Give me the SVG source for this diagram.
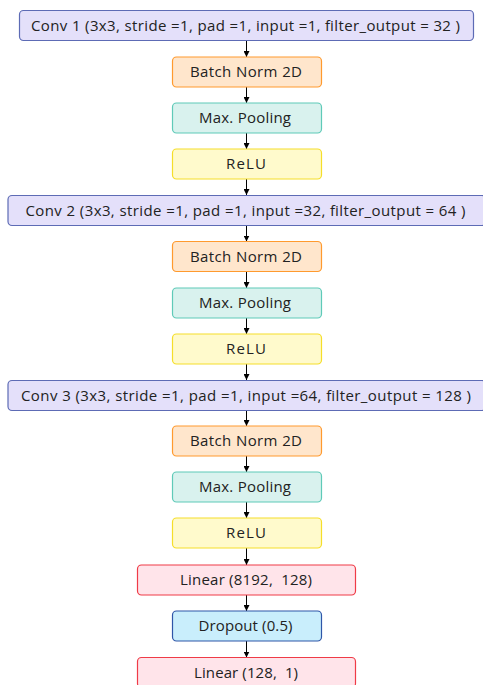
<svg xmlns="http://www.w3.org/2000/svg" width="483" height="685" viewBox="0 0 483 685">
<style>
rect{stroke-width:1.2}
.t{font-family:"Open Sans","Noto Sans",sans-serif;font-size:15px;fill:#222;text-anchor:middle;dominant-baseline:central}
.conv{fill:#e4e0fa;stroke:#5d6bb5}
.bn{fill:#ffe6cc;stroke:#ff9a2e}
.mp{fill:#d9f2ee;stroke:#5fcab8}
.relu{fill:#fffacc;stroke:#f5de2a}
.lin{fill:#ffe4ea;stroke:#ef3b47}
.drop{fill:#c9eefc;stroke:#2f56a8}
.c line{stroke:#000;stroke-width:1}
</style>
<defs>
<marker id="ah" viewBox="0 0 10 10" refX="10" refY="5" markerWidth="6" markerHeight="6" markerUnits="userSpaceOnUse" orient="auto"><path d="M0,0L10,5L0,10z" fill="#000"/></marker>
</defs>
<g class="c">
<line x1="246.5" y1="40.5" x2="246.5" y2="57" marker-end="url(#ah)"/>
<line x1="246.5" y1="87" x2="246.5" y2="103" marker-end="url(#ah)"/>
<line x1="246.5" y1="133" x2="246.5" y2="149" marker-end="url(#ah)"/>
<line x1="246.5" y1="179" x2="246.5" y2="195" marker-end="url(#ah)"/>
<line x1="246.5" y1="225.5" x2="246.5" y2="241.5" marker-end="url(#ah)"/>
<line x1="246.5" y1="271.5" x2="246.5" y2="288" marker-end="url(#ah)"/>
<line x1="246.5" y1="318" x2="246.5" y2="334" marker-end="url(#ah)"/>
<line x1="246.5" y1="364" x2="246.5" y2="380" marker-end="url(#ah)"/>
<line x1="246.5" y1="410.5" x2="246.5" y2="426" marker-end="url(#ah)"/>
<line x1="246.5" y1="456" x2="246.5" y2="472" marker-end="url(#ah)"/>
<line x1="246.5" y1="502" x2="246.5" y2="518" marker-end="url(#ah)"/>
<line x1="246.5" y1="548" x2="246.5" y2="565" marker-end="url(#ah)"/>
<line x1="246.5" y1="595" x2="246.5" y2="611" marker-end="url(#ah)"/>
<line x1="246.5" y1="641" x2="246.5" y2="657.5" marker-end="url(#ah)"/>
</g>
<g id="conv1"><rect class="conv" x="19.5" y="10.5" width="454" height="30" rx="4"/><text class="t" x="245.5" y="24.5" textLength="429">Conv 1 (3x3, stride =1, pad =1, input =1, filter_output = 32 )</text></g>
<g id="bn1"><rect class="bn" x="172.5" y="57" width="149" height="30" rx="4"/><text class="t" x="246" y="71" textLength="112">Batch Norm 2D</text></g>
<g id="mp1"><rect class="mp" x="172.5" y="103" width="149" height="30" rx="4"/><text class="t" x="245" y="117" textLength="92">Max. Pooling</text></g>
<g id="relu1"><rect class="relu" x="172.5" y="149" width="149" height="30" rx="4"/><text class="t" x="246" y="163" textLength="40">ReLU</text></g>
<g id="conv2"><rect class="conv" x="8" y="195.5" width="478" height="30" rx="4"/><text class="t" x="245.5" y="209.5" textLength="440">Conv 2 (3x3, stride =1, pad =1, input =32, filter_output = 64 )</text></g>
<g id="bn2"><rect class="bn" x="172.5" y="241.5" width="149" height="30" rx="4"/><text class="t" x="246" y="255.5" textLength="112">Batch Norm 2D</text></g>
<g id="mp2"><rect class="mp" x="172.5" y="288" width="149" height="30" rx="4"/><text class="t" x="245" y="302" textLength="92">Max. Pooling</text></g>
<g id="relu2"><rect class="relu" x="172.5" y="334" width="149" height="30" rx="4"/><text class="t" x="246" y="348" textLength="40">ReLU</text></g>
<g id="conv3"><rect class="conv" x="8" y="380.5" width="478" height="30" rx="4"/><text class="t" x="246" y="394.5" textLength="450">Conv 3 (3x3, stride =1, pad =1, input =64, filter_output = 128 )</text></g>
<g id="bn3"><rect class="bn" x="172.5" y="426" width="149" height="30" rx="4"/><text class="t" x="246" y="440" textLength="112">Batch Norm 2D</text></g>
<g id="mp3"><rect class="mp" x="172.5" y="472" width="149" height="30" rx="4"/><text class="t" x="245" y="486" textLength="92">Max. Pooling</text></g>
<g id="relu3"><rect class="relu" x="172.5" y="518" width="149" height="30" rx="4"/><text class="t" x="246" y="532" textLength="40">ReLU</text></g>
<g id="linear1"><rect class="lin" x="137.5" y="565" width="218" height="30" rx="4"/><text class="t" x="246" y="579" textLength="132" xml:space="preserve">Linear (8192,  128)</text></g>
<g id="dropout"><rect class="drop" x="172.5" y="611" width="149" height="30" rx="4"/><text class="t" x="245.5" y="625" textLength="94">Dropout (0.5)</text></g>
<g id="linear2"><rect class="lin" x="137.5" y="657.5" width="218" height="30" rx="4"/><text class="t" x="246" y="671.5" textLength="104" xml:space="preserve">Linear (128,  1)</text></g>
</svg>
